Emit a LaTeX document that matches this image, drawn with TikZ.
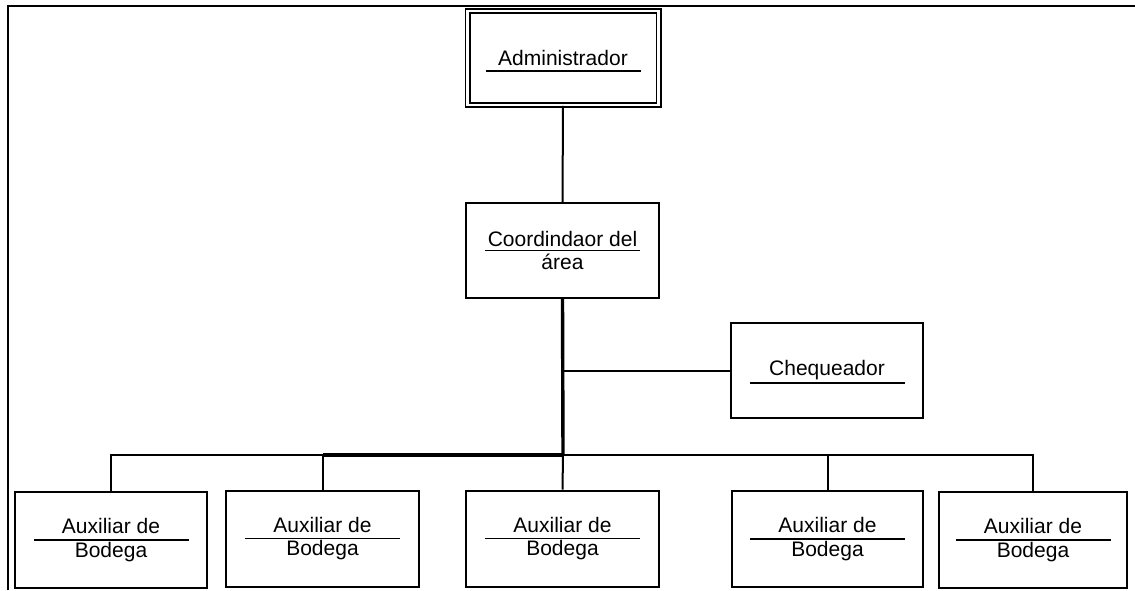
\documentclass[tikz,border=0pt]{standalone}
\usepackage{fontspec}
\setmainfont{Liberation Sans}
\usepackage{tikz}

\begin{document}
\begin{tikzpicture}[
    x=1pt,
    y=-1pt,
    puesto/.style={
        rectangle,
        draw=black,
        line width=2pt,
        align=center,
        minimum width=192pt,
        minimum height=96pt,
        inner sep=0pt,
        font=\fontsize{21}{23.5}\selectfont
    },
    raya/.style={
        path picture={
            \draw[line width=1.6pt]
                ([shift={(-77.5,#1)}]path picture bounding box.center)
                -- ([shift={(77.5,#1)}]path picture bounding box.center);
        }
    },
    linea/.style={
        line width=2pt
    },
    gruesa/.style={
        line width=3.4pt
    }
]

\useasboundingbox (0,0) rectangle (1135,590);

% marco
\draw[line width=2.4pt] (8,590) -- (8,6) -- (1135,6);

\node[puesto, raya=13, double, double distance=2.6pt, line width=1.7pt,
      minimum width=191pt, minimum height=94pt] (admin) at (563,58)
    {Administrador};

\node[puesto, raya=0, minimum width=193pt, minimum height=95pt] (coord) at (562.5,250.5)
    {Coordindaor del\\\'area};

\node[puesto, raya=12.5, minimum height=95pt] (cheq) at (827,370.5)
    {Chequeador};


\node[puesto, raya=0] (aux1) at (111,540)
    {Auxiliar de\\Bodega};

\node[puesto, raya=0, minimum width=193pt] (aux2) at (322.5,538.5)
    {Auxiliar de\\Bodega};

\node[puesto, raya=0, minimum width=193pt] (aux3) at (562.5,538.5)
    {Auxiliar de\\Bodega};

\node[puesto, raya=0, minimum width=191pt] (aux4) at (827.5,539)
    {Auxiliar de\\Bodega};

\node[puesto, raya=0, minimum width=188pt] (aux5) at (1033,540)
    {Auxiliar de\\Bodega};

\coordinate (bus) at (563,455);


\draw[linea] (admin.south) -- (coord.north);

\draw[gruesa] (coord.south) -- (bus);
\draw[linea] (bus |- cheq.west) -- (cheq.west);


\draw[linea] (aux1.north) |- (aux2.north |- bus);
\draw[gruesa] (aux2.north |- bus) -- (bus);
\draw[linea] (bus) -| (aux5.north);

\draw[linea] (aux2.north |- bus) -- (aux2.north);
\draw[linea] (bus) -- (aux3.north);
\draw[linea] (aux4.north |- bus) -- (aux4.north);

\end{tikzpicture}
\end{document}
